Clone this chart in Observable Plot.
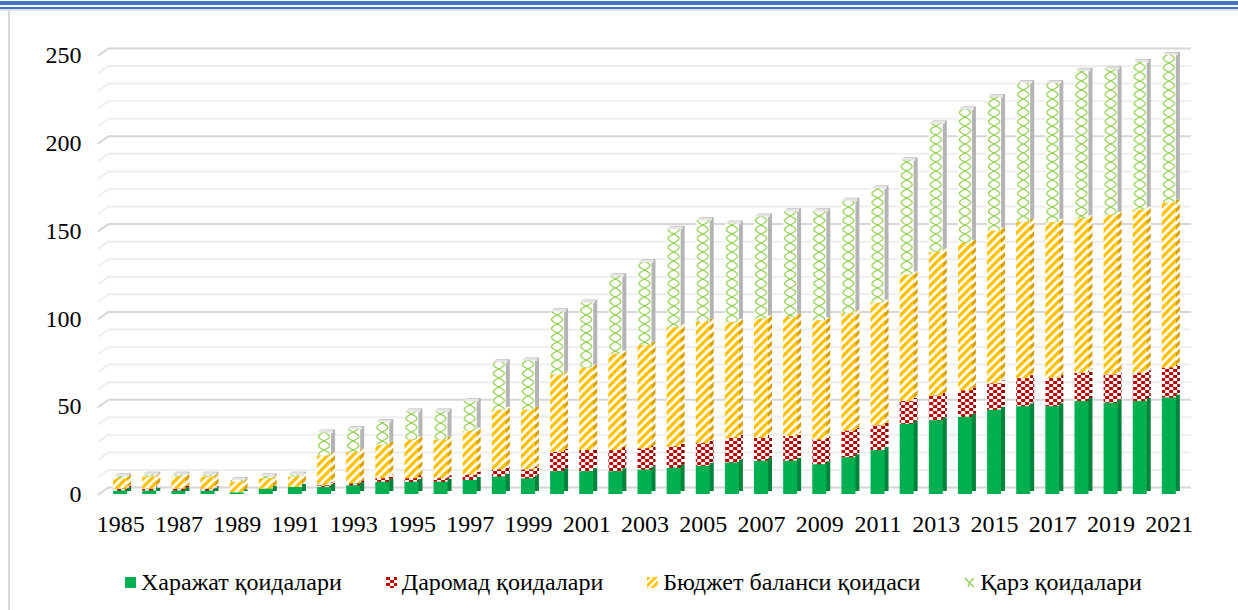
<!DOCTYPE html>
<html><head><meta charset="utf-8">
<script src="https://cdn.jsdelivr.net/npm/d3@7"></script>
<script src="https://cdn.jsdelivr.net/npm/@observablehq/plot@0.6"></script>
<style>
html,body{margin:0;padding:0;background:#fff;}
body{width:1238px;height:610px;overflow:hidden;position:relative;font-family:"Liberation Serif","DejaVu Serif",serif;}
.bar{position:absolute;left:0;width:1238px;}
#b1{top:1px;height:4px;background:#4472c4}
#b2{top:7px;height:2px;background:#4472c4}
#b3{top:9px;height:2px;background:#dde1e8}
#bl{position:absolute;left:8px;top:10px;width:2px;height:600px;background:#d9d9d9}
#chart{position:absolute;left:0;top:0}
#legend{position:absolute;left:125px;top:569px;display:flex;gap:44px;font-size:24px;color:#000;line-height:27px}
#legend .it{display:flex;align-items:center;gap:5px}
#legend svg{display:block}
</style></head>
<body>
<div class="bar" id="b1"></div><div class="bar" id="b2"></div><div class="bar" id="b3"></div><div id="bl"></div>
<div id="chart"></div>
<div id="legend"></div>
<script>
const years = [1985,1986,1987,1988,1989,1990,1991,1992,1993,1994,1995,1996,1997,1998,1999,2000,2001,2002,2003,2004,2005,2006,2007,2008,2009,2010,2011,2012,2013,2014,2015,2016,2017,2018,2019,2020,2021];
const series = ["Харажат қоидалари","Даромад қоидалари","Бюджет баланси қоидаси","Қарз қоидалари"];
const expenditure = [2,2,2,2,1,3,4, 4,5,7,7,7,8,10,9, 13,13,13,14,15,16,18,19,19,17,21,25, 40,42,44,48,50,50,53,52,53,55];
const revenue     = [1,1,1,1,0,0,0, 1,1,2,2,2,3,4,5, 11,12,12,12,12,13,14,13,14,14,15,14, 13,14,15,15,16,16,16,16,16,17];
const balance     = [6,7,7,7,6,6,6, 17,18,19,22,22,25,34,34, 44,47,55,59,68,69,66,68,68,68,67,70, 72,82,84,87,89,89,88,91,93,94];
const debt        = [1,1,1,1,1,1,1, 13,13,13,16,16,17,27,28, 36,37,44,47,56,58,56,58,60,62,64,65, 65,73,76,76,79,79,84,83,84,84];
const yTicks = [0,50,100,150,200,250];
const gridMinor = [10,20,30,40,60,70,80,90,110,120,130,140,160,170,180,190,210,220,230,240];

const values = [expenditure, revenue, balance, debt];
const data = years.flatMap((yr,i) => series.map((s,k) => ({year: yr, series: s, value: values[k][i]})));
const totals = years.map((yr,i) => ({year: yr, total: values.reduce((a,v) => a + v[i], 0)}));

const frontFill = {[series[0]]:"#00b050",[series[1]]:"url(#pRed)",[series[2]]:"url(#pYel)",[series[3]]:"url(#pDebt)"};
const sideFill  = {[series[0]]:"#00843c",[series[1]]:"url(#pRedS)",[series[2]]:"url(#pYelS)",[series[3]]:"#b4b4b4"};

const W = 1238, H = 545, ML = 98, MR = 47, MT = 55, MB = 51;

const plot = Plot.plot({
  width: W, height: H,
  marginLeft: ML, marginRight: MR, marginTop: MT, marginBottom: MB,
  style: {fontFamily: "Liberation Serif, DejaVu Serif, serif", fontSize: "24px", color: "#000", background: "transparent", overflow: "visible"},
  x: {type: "band", domain: years, padding: 0.52, round: false, tickSize: 0, tickPadding: 20, label: null, tickFormat: d => d % 2 ? String(d) : ""},
  y: {domain: [0, 250], ticks: yTicks, tickSize: 0, tickPadding: 17, label: null},
  color: {type: "identity"},
  marks: [
    Plot.ruleY(gridMinor, {stroke: "#eeeeee", strokeWidth: 2, dx: 10, dy: -7, insetRight: 10}),
    Plot.ruleY(yTicks, {stroke: "#d6d6d6", strokeWidth: 2, dx: 10, dy: -7, insetRight: 10}),
    Plot.vector(gridMinor, {y: d => d, frameAnchor: "left", rotate: 55, length: 12.2, anchor: "start", r: 0, stroke: "#eeeeee", strokeWidth: 2}),
    Plot.vector(yTicks, {y: d => d, frameAnchor: "left", rotate: 55, length: 12.2, anchor: "start", r: 0, stroke: "#d6d6d6", strokeWidth: 2}),
    Plot.barY(data, Plot.stackY({x: "year", y: "value", z: "series", fill: d => sideFill[d.series], dx: 4, dy: -3})),
    Plot.tickY(totals, {x: "year", y: "total", stroke: "#e4e4e4", strokeWidth: 3, dx: 2, dy: -1.5}),
    Plot.barY(data, Plot.stackY({x: "year", y: "value", z: "series", fill: d => frontFill[d.series]}))
  ]
});
document.getElementById("chart").appendChild(plot);

// patterns
const svgSel = d3.select(plot.tagName.toLowerCase() === "svg" ? plot : plot.querySelector("svg"));
const xs = plot.scale("x");
const x0 = xs.apply(years[0]);
const bw = xs.bandwidth;
const step = xs.step || (xs.apply(years[1]) - xs.apply(years[0]));
const defs = svgSel.insert("defs", ":first-child");

function checker(sel, id, c, x) {
  const p = sel.append("pattern").attr("id", id).attr("patternUnits", "userSpaceOnUse").attr("width", 8).attr("height", 6).attr("x", x || 0);
  p.append("rect").attr("width", 8).attr("height", 6).attr("fill", "#fff");
  p.append("rect").attr("width", 4).attr("height", 3).attr("fill", c);
  p.append("rect").attr("x", 4).attr("y", 3).attr("width", 4).attr("height", 3).attr("fill", c);
}
function stripes(sel, id, c, size) {
  const p = sel.append("pattern").attr("id", id).attr("patternUnits", "userSpaceOnUse").attr("width", size).attr("height", size).attr("patternTransform", "rotate(45)");
  p.append("rect").attr("width", size).attr("height", size).attr("fill", "#fff");
  p.append("rect").attr("width", size * 0.55).attr("height", size).attr("fill", c);
}
function helix(sel, id, w, pw, x, period) {
  const p = sel.append("pattern").attr("id", id).attr("patternUnits", "userSpaceOnUse").attr("width", pw).attr("height", period).attr("x", x).attr("y", 0);
  p.append("rect").attr("width", pw).attr("height", period).attr("fill", "#fff");
  const amp = w / 2 - 1.5;
  for (const sgn of [1, -1]) {
    const pts = d3.range(0, period + 0.01, 0.5).map(y => [w / 2 + sgn * amp * Math.sin(2 * Math.PI * y / period), y]);
    p.append("path").attr("d", d3.line()(pts)).attr("fill", "none").attr("stroke", "#92d050").attr("stroke-width", 1.3);
  }
}
checker(defs, "pRed", "#c00000", x0);
checker(defs, "pRedS", "#8f0000", x0);
stripes(defs, "pYel", "#ffc000", 6);
stripes(defs, "pYelS", "#d9a000", 6);
helix(defs, "pDebt", bw, step, x0, 18);

// legend
const legend = d3.select("#legend");
const swatches = [
  s => s.append("rect").attr("width", 11).attr("height", 11).attr("fill", "#00b050"),
  s => { checker(s.append("defs"), "lRed", "#c00000", 0); s.append("rect").attr("width", 11).attr("height", 11).attr("fill", "url(#lRed)"); },
  s => { stripes(s.append("defs"), "lYel", "#ffc000", 5); s.append("rect").attr("width", 11).attr("height", 11).attr("fill", "url(#lYel)"); },
  s => { s.append("path").attr("d", "M1,1 Q5,6 10,10 M10,1 Q5,5 4,10").attr("fill", "none").attr("stroke", "#92d050").attr("stroke-width", 1.3); }
];
series.forEach((name, k) => {
  const it = legend.append("div").attr("class", "it");
  const s = it.append("svg").attr("width", 11).attr("height", 11);
  swatches[k](s);
  it.append("span").text(name);
});
</script>
</body></html>
